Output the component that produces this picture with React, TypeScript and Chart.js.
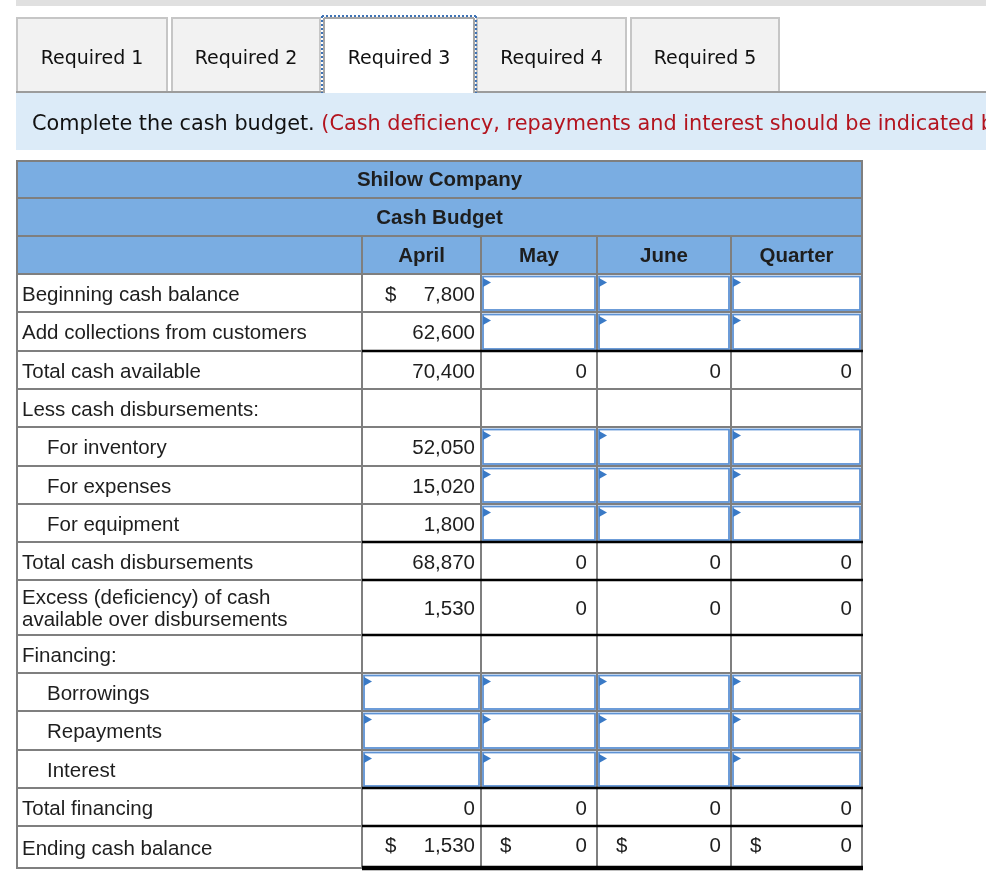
import React, { useEffect, useRef } from 'react';
import { Chart, registerables } from 'chart.js';

Chart.register(...registerables);

// ---------- content ----------
const tabLabels = ['Required 1', 'Required 2', 'Required 3', 'Required 4', 'Required 5'];
const activeTab = 2;
const instructionText = 'Complete the cash budget.';
const noteText = '(Cash deficiency, repayments and interest should be indicated by a minus sign.)';
const tableTitle = 'Shilow Company';
const tableSubtitle = 'Cash Budget';
const columnHeaders = ['April', 'May', 'June', 'Quarter'];
const rowLabels: string[][] = [
  ['Beginning cash balance'],
  ['Add collections from customers'],
  ['Total cash available'],
  ['Less cash disbursements:'],
  ['For inventory'],
  ['For expenses'],
  ['For equipment'],
  ['Total cash disbursements'],
  ['Excess (deficiency) of cash', 'available over disbursements'],
  ['Financing:'],
  ['Borrowings'],
  ['Repayments'],
  ['Interest'],
  ['Total financing'],
  ['Ending cash balance'],
];
const indentedRows = [4, 5, 6, 10, 11, 12];
const IN = 'input';
type Cell = number | null | 'input';
const aprilValues: Cell[] = [7800, 62600, 70400, null, 52050, 15020, 1800, 68870, 1530, null, IN, IN, IN, 0, 1530];
const mayValues: Cell[] = [IN, IN, 0, null, IN, IN, IN, 0, 0, null, IN, IN, IN, 0, 0];
const juneValues: Cell[] = [IN, IN, 0, null, IN, IN, IN, 0, 0, null, IN, IN, IN, 0, 0];
const quarterValues: Cell[] = [IN, IN, 0, null, IN, IN, IN, 0, 0, null, IN, IN, IN, 0, 0];
const columnValues = [aprilValues, mayValues, juneValues, quarterValues];
const dollarRows = [0, 14];
const underlinedRows = [1, 6, 7, 8, 12, 13];
const doubleUnderlinedRows = [14];

// ---------- layout ----------
const W = 986;
const H = 882;
const tabXs = [[17, 167], [172, 320], [324, 474], [477, 626], [631, 779]];
const TAB_TOP = 18;
const TAB_BOTTOM = 92;
const colEdges = [17, 362, 481, 597, 731, 862];
const headerEdges = [161, 198, 236, 274];
const rowEdges = [274, 312, 351, 389, 427, 466, 504, 542, 580, 635, 673, 711, 750, 788, 826, 868];

const GRID = '#7f7f7f';
const HEADER_BLUE = '#7aade2';
const BANNER = '#dcebf8';
const RED = '#b3141f';
const TEXT = '#1e1e1e';
const TAB_FONT = '19px "DejaVu Sans", Verdana, sans-serif';
const BANNER_FONT = '20.8px "DejaVu Sans", Verdana, sans-serif';
const TABLE_FONT = '20.5px "Liberation Sans", Arial, sans-serif';
const TABLE_BOLD = 'bold 20.5px "Liberation Sans", Arial, sans-serif';

const tablePlugin = {
  id: 'tablePlugin',
  afterDraw(chart: any) {
    const ctx: CanvasRenderingContext2D = chart.ctx;
    const sx = chart.scales.x;
    const sy = chart.scales.y;
    const X = (v: number) => sx.getPixelForValue(v);
    const Y = (v: number) => sy.getPixelForValue(v);
    const rect = (x0: number, y0: number, x1: number, y1: number, fill: string) => {
      ctx.fillStyle = fill;
      ctx.fillRect(X(x0), Y(y0), X(x1) - X(x0), Y(y1) - Y(y0));
    };
    const line = (x0: number, y0: number, x1: number, y1: number, color: string, w: number) => {
      ctx.beginPath();
      ctx.strokeStyle = color;
      ctx.lineWidth = w;
      ctx.moveTo(X(x0), Y(y0));
      ctx.lineTo(X(x1), Y(y1));
      ctx.stroke();
    };
    const text = (s: string, x: number, y: number, font: string, color: string, align: CanvasTextAlign) => {
      ctx.font = font;
      ctx.fillStyle = color;
      ctx.textAlign = align;
      ctx.textBaseline = 'middle';
      ctx.fillText(s, X(x), Y(y));
    };

    ctx.save();
    rect(0, 0, W, H, '#ffffff');
    // top bar
    rect(16, 0, W, 6, '#e0e0e0');

    // tabs
    tabXs.forEach(([a, b], i) => {
      if (i === activeTab) return;
      rect(a, TAB_TOP, b, TAB_BOTTOM, '#f2f2f2');
      ctx.strokeStyle = '#c6c6c6';
      ctx.lineWidth = 2;
      ctx.strokeRect(X(a), Y(TAB_TOP), X(b) - X(a), Y(TAB_BOTTOM) - Y(TAB_TOP) + 2);
      text(tabLabels[i], (a + b) / 2, 59, TAB_FONT, '#111', 'center');
    });
    line(16, 92, W, 92, '#9c9c9c', 2);
    {
      const [a, b] = tabXs[activeTab];
      rect(a, TAB_TOP, b, 94, '#ffffff');
      line(a, 94, a, TAB_TOP, '#a6a6a6', 2);
      line(a, TAB_TOP, b, TAB_TOP, '#a6a6a6', 2);
      line(b, TAB_TOP, b, 94, '#a6a6a6', 2);
      ctx.save();
      ctx.setLineDash([2, 2]);
      line(a - 2, 94, a - 2, TAB_TOP - 2, '#3f73b5', 2);
      line(a - 2, TAB_TOP - 2, b + 2, TAB_TOP - 2, '#3f73b5', 2);
      line(b + 2, TAB_TOP - 2, b + 2, 94, '#3f73b5', 2);
      ctx.restore();
      text(tabLabels[activeTab], (a + b) / 2, 59, TAB_FONT, '#111', 'center');
    }

    // banner
    rect(16, 93, W, 150, BANNER);
    ctx.font = BANNER_FONT;
    const instrW = ctx.measureText(instructionText + ' ').width;
    text(instructionText, 32, 124.5, BANNER_FONT, '#111', 'left');
    text(noteText, 32 + instrW, 124.5, BANNER_FONT, RED, 'left');

    // table header
    const L = colEdges[0];
    const R = colEdges[colEdges.length - 1];
    rect(L, headerEdges[0], R, headerEdges[3], HEADER_BLUE);

    // input boxes
    columnValues.forEach((vals, c) => {
      vals.forEach((v, r) => {
        if (v !== IN) return;
        const x0 = colEdges[c + 1] + 2;
        const x1 = colEdges[c + 2] - 2;
        const y0 = rowEdges[r] + 2.5;
        const y1 = rowEdges[r + 1] - 2;
        rect(x0, y0, x1, y1, '#ffffff');
        ctx.strokeStyle = '#5d92d4';
        ctx.lineWidth = 1.8;
        ctx.strokeRect(X(x0), Y(y0), X(x1) - X(x0), Y(y1) - Y(y0));
        ctx.beginPath();
        ctx.fillStyle = '#3a7ac6';
        ctx.moveTo(X(x0), Y(y0 + 1.5));
        ctx.lineTo(X(x0 + 8), Y(y0 + 6));
        ctx.lineTo(X(x0), Y(y0 + 10.5));
        ctx.closePath();
        ctx.fill();
      });
    });

    // grid
    headerEdges.forEach((y) => line(L - 1, y, R + 1, y, GRID, 2));
    rowEdges.forEach((y, i) => {
      if (i === 0) return;
      line(L - 1, y, R + 1, y, GRID, 2);
    });
    line(L, headerEdges[0], L, rowEdges[rowEdges.length - 1] + 1, GRID, 2);
    line(R, headerEdges[0], R, rowEdges[rowEdges.length - 1] + 1, GRID, 2);
    colEdges.slice(1, -1).forEach((x) => line(x, headerEdges[2], x, rowEdges[rowEdges.length - 1], GRID, 2));

    // black rules
    underlinedRows.forEach((r) => line(colEdges[1], rowEdges[r + 1], R + 1, rowEdges[r + 1], '#000', 2.5));
    doubleUnderlinedRows.forEach((r) => line(colEdges[1], rowEdges[r + 1], R + 1, rowEdges[r + 1], '#000', 4.5));

    // header texts
    text(tableTitle, (L + R) / 2, (headerEdges[0] + headerEdges[1]) / 2 + 1, TABLE_BOLD, TEXT, 'center');
    text(tableSubtitle, (L + R) / 2, (headerEdges[1] + headerEdges[2]) / 2 + 1, TABLE_BOLD, TEXT, 'center');
    columnHeaders.forEach((h, c) =>
      text(h, (colEdges[c + 1] + colEdges[c + 2]) / 2, (headerEdges[2] + headerEdges[3]) / 2 + 1, TABLE_BOLD, TEXT, 'center'),
    );

    // row labels
    rowLabels.forEach((lines, r) => {
      const cy = (rowEdges[r] + rowEdges[r + 1]) / 2;
      const x = indentedRows.includes(r) ? 47 : 22;
      if (lines.length === 1) {
        text(lines[0], x, cy + 2, TABLE_FONT, TEXT, 'left');
      } else {
        text(lines[0], x, cy - 9.5, TABLE_FONT, TEXT, 'left');
        text(lines[1], x, cy + 12.5, TABLE_FONT, TEXT, 'left');
      }
    });

    // values
    columnValues.forEach((vals, c) => {
      const left = colEdges[c + 1];
      const right = colEdges[c + 2];
      vals.forEach((v, r) => {
        if (v === null || v === IN) return;
        const cy = (rowEdges[r] + rowEdges[r + 1]) / 2 + (r === 14 ? -1 : 2);
        const pad = c === 0 ? 6 : 10;
        text(v.toLocaleString('en-US'), right - pad, cy, TABLE_FONT, TEXT, 'right');
        if (dollarRows.includes(r)) text('$', left + (c === 0 ? 23 : 19), cy, TABLE_FONT, TEXT, 'left');
      });
    });
    ctx.restore();
  },
};

export default function App() {
  const ref = useRef<HTMLCanvasElement | null>(null);
  useEffect(() => {
    if (!ref.current) return;
    const chart = new Chart(ref.current, {
      type: 'scatter',
      data: { datasets: [{ data: [] }] },
      options: {
        responsive: false,
        animation: false,
        devicePixelRatio: 1,
        layout: { padding: 0 },
        plugins: { legend: { display: false }, tooltip: { enabled: false } },
        scales: {
          x: { type: 'linear', min: 0, max: W, display: false },
          y: { type: 'linear', min: 0, max: H, reverse: true, display: false },
        },
      },
      plugins: [tablePlugin],
    });
    return () => chart.destroy();
  }, []);
  return (
    <div style={{ position: 'absolute', left: 0, top: 0, width: W, height: H, overflow: 'hidden' }}>
      <canvas ref={ref} width={W} height={H} style={{ width: W, height: H, display: 'block' }} />
    </div>
  );
}
